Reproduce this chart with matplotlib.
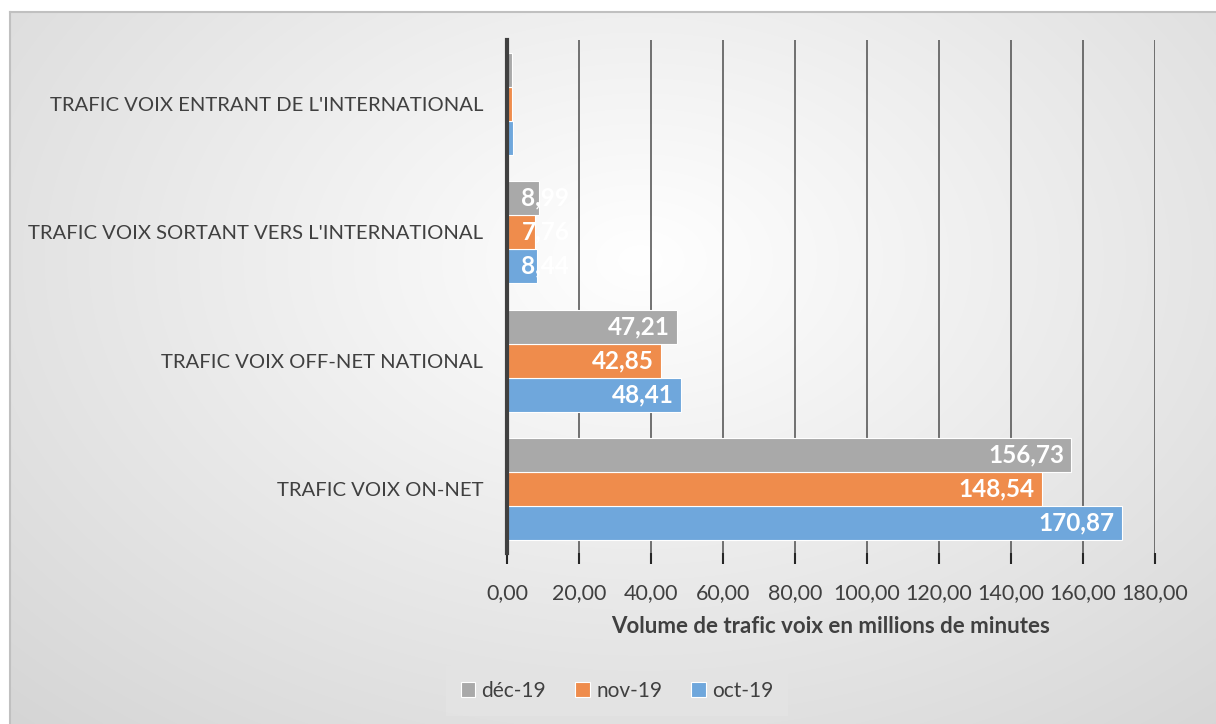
import matplotlib
matplotlib.use("Agg")
import matplotlib.pyplot as plt
import numpy as np

categories = ["TRAFIC VOIX ON-NET", "TRAFIC VOIX OFF-NET NATIONAL",
              "TRAFIC VOIX SORTANT VERS L'INTERNATIONAL",
              "TRAFIC VOIX ENTRANT DE L'INTERNATIONAL"]
series = ["oct-19", "nov-19", "déc-19"]
oct19 = [170.87, 48.41, 8.44, 1.8]
nov19 = [148.54, 42.85, 7.76, 1.5]
dec19 = [156.73, 47.21, 8.99, 1.4]
colors = ["#6fa7dc", "#ef8c4c", "#a9a9a9"]
xticks = np.arange(0, 181, 20)

plt.rcParams['font.family'] = ['Lato', 'DejaVu Sans']
txt = "#404040"

fig = plt.figure(figsize=(12.16, 7.24), dpi=100)

# background radial gradient with border
bg = fig.add_axes([0, 0, 1, 1], zorder=-10)
W, H = 1216, 724
yy, xx = np.mgrid[0:H, 0:W]
r = np.sqrt(((xx - 640) / 900.0) ** 2 + ((yy - 260) / 620.0) ** 2)
g = np.clip(1.0 - 0.16 * r, 0.83, 1.0)
img = np.dstack([g, g, g])
img[:12, :, :] = 1.0
img[:, :10, :] = 1.0
bg.imshow(img, extent=[0, W, H, 0], aspect='auto', interpolation='bilinear')
bg.plot([10, W, ], [12, 12], color="#c0c0c0", lw=1.5)
bg.plot([10, 10], [12, H], color="#c0c0c0", lw=1.5)
bg.set_xlim(0, W)
bg.set_ylim(H, 0)
bg.axis("off")

ax = fig.add_axes([507 / W, 1 - 553 / H, 648 / W, 513 / H])
ax.patch.set_alpha(0)

y = np.arange(len(categories))
h = 0.265
vals = [oct19, nov19, dec19]
for i, (s, v, c) in enumerate(zip(series, vals, colors)):
    pos = y + (i - 1) * h
    ax.barh(pos, v, height=h, color=c, edgecolor="white", linewidth=0.8,
            label=s, zorder=3)
    for p, val in zip(pos, v):
        lab = f"{val:.2f}".replace(".", ",")
        if val > 20:
            ax.text(val - 2, p, lab, ha="right", va="center", color="white",
                    fontsize=17.5, fontweight="bold", zorder=4)
        elif val > 5:
            ax.text(4, p, lab, ha="left", va="center", color="white",
                    fontsize=17.5, fontweight="bold", zorder=4)

ax.set_xlim(0, 180)
ax.set_ylim(-0.5, 3.5)
ax.set_xticks(xticks)
ax.set_xticklabels([f"{t:.2f}".replace(".", ",") for t in xticks],
                   fontsize=15.5, color=txt)
ax.set_yticks(y)
ax.set_yticklabels(categories, fontsize=14.6, color=txt)
ax.tick_params(axis="y", length=0, pad=17)
ax.tick_params(axis="x", length=8, width=1.5, color="#262626", pad=14,
               direction="out")
ax.grid(axis="x", color="#5a5a5a", linewidth=1.2, zorder=0)
for sp in ["top", "right", "bottom"]:
    ax.spines[sp].set_visible(False)
ax.spines["left"].set_color("#404040")
ax.spines["left"].set_linewidth(3)
ax.spines["left"].set_zorder(5)
ax.set_xlabel("Volume de trafic voix en millions de minutes", fontsize=16,
              fontweight="bold", color=txt, labelpad=9)

handles, labels = ax.get_legend_handles_labels()
leg = fig.legend(handles[::-1], labels[::-1], loc="center",
                 bbox_to_anchor=(617 / W, 1 - 691 / H), ncol=3, fontsize=15,
                 frameon=True, handlelength=0.7, handleheight=0.7,
                 handletextpad=0.3, columnspacing=1.4, borderpad=0.4)
leg.get_frame().set_facecolor("#e4e4e4")
leg.get_frame().set_edgecolor("none")
leg.get_frame().set_boxstyle("square", pad=0.3)
for t in leg.get_texts():
    t.set_color(txt)

fig.savefig("out.png", dpi=100)
